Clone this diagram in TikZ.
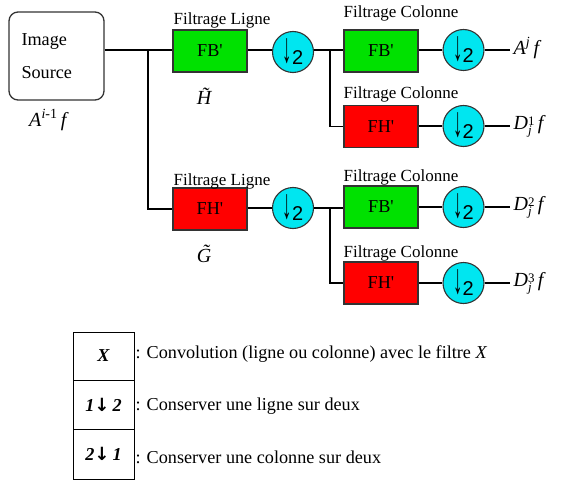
\documentclass[tikz,border=0pt]{standalone}
\usepackage{graphicx}
\usepackage{fontspec}
\setmainfont{Liberation Serif}
\newfontfamily\arrowfont{Liberation Sans}
\newfontfamily\legarrowfont{DejaVu Sans}
\definecolor{boxgreen}{RGB}{0,225,0}
\definecolor{boxred}{RGB}{255,0,0}
\definecolor{circcyan}{RGB}{0,230,240}
\newcommand\dlab[1]{\textit{D}\raisebox{-1pt}{\fontsize{13}{12}\selectfont\begin{tabular}[c]{@{}l@{}}#1\\[-3pt]\textit{j}\end{tabular}}\,\textit{f}}
\newcommand\dsym{{\fontsize{17}{17}\selectfont\raisebox{-1pt}{\scalebox{1.1}[2.5]{↓}}\fontsize{20}{20}\selectfont\raisebox{-3pt}{2}}}
\newcommand\bigtxt[1]{\scalebox{1.07}{#1}}
\begin{document}
\begin{tikzpicture}[x=1pt,y=-1pt,line width=1.2pt,
  txt/.style={font=\rmfamily\fontsize{17}{19}\selectfont,inner sep=0pt},
  filt/.style={draw=black!80,line width=1.3pt,minimum width=74pt,minimum height=42pt,inner sep=0pt,font=\rmfamily\fontsize{17}{17}\selectfont},
  fb/.style={filt,fill=boxgreen},
  fh/.style={filt,fill=boxred},
  down/.style={circle,draw=black!80,line width=1.1pt,fill=circcyan,minimum size=41pt,inner sep=0pt,font=\arrowfont},
  src/.style={draw=black!80,line width=1.3pt,rounded corners=9pt,minimum width=95pt,minimum height=88pt,inner sep=0pt,text width=70pt,align=left,font=\rmfamily\fontsize{17}{33}\selectfont},
  lab/.style={font=\rmfamily\fontsize{20}{22}\selectfont,inner sep=0pt},
  cell/.style={draw=black,line width=1pt,minimum width=61pt,inner sep=0pt,font=\rmfamily\fontsize{17}{17}\selectfont\bfseries\itshape},
]
\useasboundingbox (0,0) rectangle (561,481);
% source
\node[src] (src) at (56.5,56) {\bigtxt{Image}\\\bigtxt{Source}};
\node[lab] (ai) at (49,120) {\textit{A}\textsuperscript{\textit{i}-1}\,\textit{f}};
\coordinate (j1) at (148,50);
% row filters (lignes)
\node[fb] (fb1) at (210,51) {\raisebox{-5pt}{\bigtxt{FB\textquotesingle}}};
\node[fh] (fh1) at (210,209) {\raisebox{-5pt}{\bigtxt{FH\textquotesingle}}};
\node[txt,anchor=base west] (tl1) at (173,25) {Filtrage Ligne};
\node[txt,anchor=base west] (tl2) at (173,185) {Filtrage Ligne};
\node[lab] (ht) at (208,96) {\textit{\~{H}}};
\node[lab] (gt) at (208,254) {\textit{\~{G}}};
\node[down] (c1) at (293,52) {\dsym};
\node[down] (c4) at (293,208) {\dsym};
\coordinate (j2) at (330,50);
\coordinate (j3) at (330,208);
% column filters
\node[fb] (fbc1) at (381,51) {\raisebox{-5pt}{\bigtxt{FB\textquotesingle}}};
\node[fh] (fhc1) at (381,126.5) {\raisebox{-5pt}{\bigtxt{FH\textquotesingle}}};
\node[fb] (fbc2) at (381,207) {\raisebox{-5pt}{\bigtxt{FB\textquotesingle}}};
\node[fh] (fhc2) at (381,283) {\raisebox{-5pt}{\bigtxt{FH\textquotesingle}}};
\node[txt,anchor=base west] (tc1) at (343,18) {Filtrage Colonne};
\node[txt,anchor=base west] (tc2) at (343,99) {Filtrage Colonne};
\node[txt,anchor=base west] (tc3) at (343,181) {Filtrage Colonne};
\node[txt,anchor=base west] (tc4) at (343,257) {Filtrage Colonne};
\node[down] (c2) at (463.5,50) {\dsym};
\node[down] (c3) at (463.5,126) {\dsym};
\node[down] (c5) at (463.5,207) {\dsym};
\node[down] (c6) at (463.5,283) {\dsym};
\coordinate (o1) at (510,50);
\coordinate (o2) at (510,126);
\coordinate (o3) at (510,207);
\coordinate (o4) at (510,283);
\node[lab,anchor=west] (l1) at (513,48) {\textit{A}\textsuperscript{\textit{j}}\,\textit{f}};
\node[lab,anchor=west] (l2) at (513,127) {\dlab{1}};
\node[lab,anchor=west] (l3) at (513,208) {\dlab{2}};
\node[lab,anchor=west] (l4) at (513,284) {\dlab{3}};
% connectors
\draw (src.east |- j1) -- (fb1.west |- j1);
\draw (j1) |- (fh1.west);
\draw (fb1.east |- j1) -- (c1.west |- j1);
\draw (fh1.east |- c4) -- (c4);
\draw (c1.east |- j2) -- (fbc1.west |- j2);
\draw (j2) |- (fhc1.west);
\draw (c4) -- (fbc2.west |- c4);
\draw (j3) |- (fhc2.west);
\draw (fbc1.east |- c2) -- (c2);
\draw (fhc1.east |- c3) -- (c3);
\draw (fbc2.east |- c5) -- (c5);
\draw (fhc2.east |- c6) -- (c6);
\draw (c2) -- (o1);
\draw (c3) -- (o2);
\draw (c5) -- (o3);
\draw (c6) -- (o4);
% legend
\node[cell,minimum height=48pt] (k1) at (103.5,356) {\bigtxt{X}};
\node[cell,minimum height=49pt] (k2) at (103.5,404.5) {\bigtxt{1{\legarrowfont\bfseries\upshape ↓}\,2}};
\node[cell,minimum height=50pt] (k3) at (103.5,454) {\bigtxt{2{\legarrowfont\bfseries\upshape ↓}\,1}};
\node[txt,anchor=west] (d1) at (135,354) {\bigtxt{: Convolution (ligne ou colonne) avec le filtre \textit{X}}};
\node[txt,anchor=west] (d2) at (135,406) {\bigtxt{: Conserver une ligne sur deux}};
\node[txt,anchor=west] (d3) at (135,457) {\bigtxt{: Conserver une colonne sur deux}};
\end{tikzpicture}
\end{document}
